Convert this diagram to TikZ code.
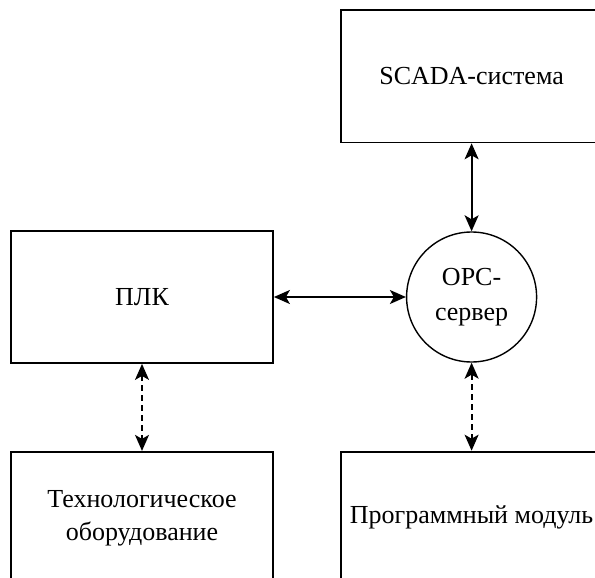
\documentclass[tikz,border=0pt]{standalone}
\usepackage{fontspec}
\setmainfont{Liberation Serif}
\usepackage{tikz}
\usetikzlibrary{arrows.meta, positioning}

\begin{document}
\begin{tikzpicture}[
  box/.style={draw, line width=1.8pt, align=center, inner sep=2pt,
              font=\fontsize{26}{33}\selectfont,
              minimum height=132pt, minimum width=262pt},
  srv/.style={draw, circle, line width=1.4pt, align=center, inner sep=0pt,
              font=\fontsize{26}{35}\selectfont, minimum size=130pt},
  arr/.style={{Stealth[length=16pt,width=14pt,inset=4pt]}-{Stealth[length=16pt,width=14pt,inset=4pt]},
              line width=1.8pt},
  darr/.style={arr, dash pattern=on 6pt off 4pt}]

  % frame of the picture (boxes at right and bottom run off it)
  \clip (0,0) rectangle (595pt,-578pt);

  % controller and OPC server in one row
  \node[box] (plc) at (142pt,-297pt) {ПЛК};
  \node[srv, right=132pt of plc] (opc) {OPC-\\сервер};

  % SCADA above the server, equipment and module below
  \node[box, above=88pt of opc] (scada) {SCADA-система};
  \node[box, below=87pt of plc] (tech) {Технологическое\\оборудование};
  \node[box, below=88pt of opc] (prog) {Программный модуль};

  \draw[arr]  (plc)   -- (opc);
  \draw[arr]  (scada) -- (opc);
  \draw[darr] (plc)   -- (tech);
  \draw[darr] (opc)   -- (prog);
\end{tikzpicture}
\end{document}
